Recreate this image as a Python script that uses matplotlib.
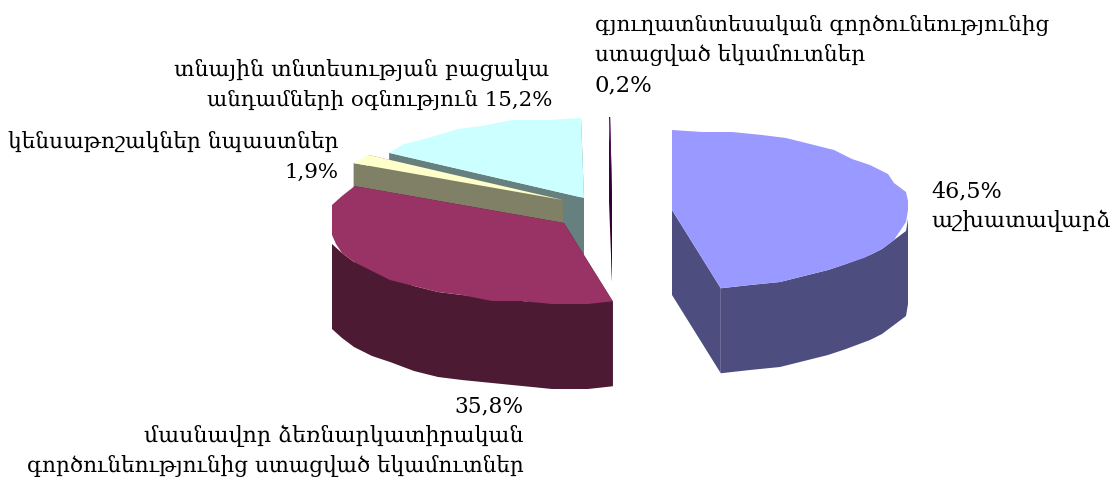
#!/usr/bin/env python3
"""Exploded 3D-style pie of household income shares (Armenian labels)."""

import numpy as np
import matplotlib
matplotlib.use("Agg")
import matplotlib.pyplot as plt
from matplotlib.patches import Polygon

plt.rcParams["font.family"] = ["DejaVu Serif", "DejaVu Sans"]

# ── Data ─────────────────────────────────────────────────────────────
# order is clockwise from 12 o'clock
shares = [46.5, 35.8, 1.9, 15.2, 0.2]
top_colors = ["#9999FF", "#993366", "#FFFFCC", "#CCFFFF", "#4A004A"]
side_colors = ["#4D4D80", "#4D1A33", "#808066", "#668080", "#330033"]

# ── Geometry (pixels of the 1112x484 picture) ────────────────────────
RX, RY, DEPTH = 236, 80, 85
RX_LEFT = 232          # the source outline is flattened on the left
STEP_DEG = 7           # source outline is a coarse polygon, not a smooth arc
GRID_X, GRID_Y = 6, 3  # ... snapped to a rough grid
centers = [(672, 210), (564, 223), (563, 200), (584, 198), (612, 197)]
# back to front
draw_order = [3, 2, 4, 1, 0]
# the 0.2% wedge shows as a needle, narrower than its true angle
angle_scale = [1, 1, 1, 1, 0.4]


def rim(a0, a1, cx, cy):
    n = max(int(abs(a1 - a0) / STEP_DEG), 1) + 1
    t = np.radians(np.linspace(a0, a1, n))
    pts = np.column_stack([RX * np.sin(t), -RY * np.cos(t)])
    # snap inner points only, the ends have to meet the straight cut edges
    pts[1:-1, 0] = np.ceil(np.abs(pts[1:-1, 0]) / GRID_X) * GRID_X * np.sign(pts[1:-1, 0])
    pts[1:-1, 1] = np.round(pts[1:-1, 1] / GRID_Y) * GRID_Y
    pts[:, 0] = np.clip(pts[:, 0], -RX_LEFT, RX)
    return pts + [cx, cy]


def draw_slice(ax, a0, a1, center, top, side):
    cx, cy = center
    arc = rim(a0, a1, cx, cy)
    apex = np.array([[cx, cy]])
    down = np.array([0, DEPTH])

    # cut faces
    for edge in (arc[0], arc[-1]):
        pts = np.array([apex[0], edge, edge + down, apex[0] + down])
        ax.add_patch(Polygon(pts, fc=side, ec="none"))
    # outer wall, only the part facing the viewer
    lo, hi = max(a0, 90), min(a1, 270)
    if hi > lo:
        wall = rim(lo, hi, cx, cy)
        pts = np.vstack([wall, wall[::-1] + down])
        ax.add_patch(Polygon(pts, fc=side, ec="none"))
    ax.add_patch(Polygon(np.vstack([apex, arc]), fc=top, ec="none"))


fig = plt.figure(figsize=(11.12, 4.84), dpi=100, facecolor="white")
ax = fig.add_axes([0, 0, 1, 1])
ax.set_xlim(0, 1112)
ax.set_ylim(484, 0)
ax.axis("off")

edges = np.concatenate([[0], np.cumsum(shares)]) / sum(shares) * 360
for i in draw_order:
    a0 = edges[i]
    a1 = a0 + (edges[i + 1] - a0) * angle_scale[i]
    draw_slice(ax, a0, a1, centers[i], top_colors[i], side_colors[i])

# ── Labels ───────────────────────────────────────────────────────────
ax.text(595, 25, "գյուղատնտեսական գործունեությունից", fontsize=15.4, va="center")
ax.text(595, 55, "ստացված եկամուտներ", fontsize=15.6, va="center")
ax.text(595, 85, "0,2%", fontsize=16.4, va="center")
ax.text(549, 70, "տնային տնտեսության բացակա", fontsize=15.8, va="center", ha="right")
ax.text(552, 100, "անդամների օգնություն 15,2%", fontsize=15.4, va="center", ha="right")
ax.text(338, 142, "կենսաթոշակներ նպաստներ", fontsize=15.7, va="center", ha="right")
ax.text(338, 172, "1,9%", fontsize=15.4, va="center", ha="right")
ax.text(931, 191, "46,5%", fontsize=16, va="center")
ax.text(931, 221, "աշխատավարձ", fontsize=16, va="center")
ax.text(524, 406, "35,8%", fontsize=15.6, va="center", ha="right")
ax.text(524, 436, "մասնավոր ձեռնարկատիրական", fontsize=15.9, va="center", ha="right")
ax.text(524, 466, "գործունեությունից ստացված եկամուտներ", fontsize=15.5, va="center", ha="right")

fig.savefig("out.png", dpi=100)
